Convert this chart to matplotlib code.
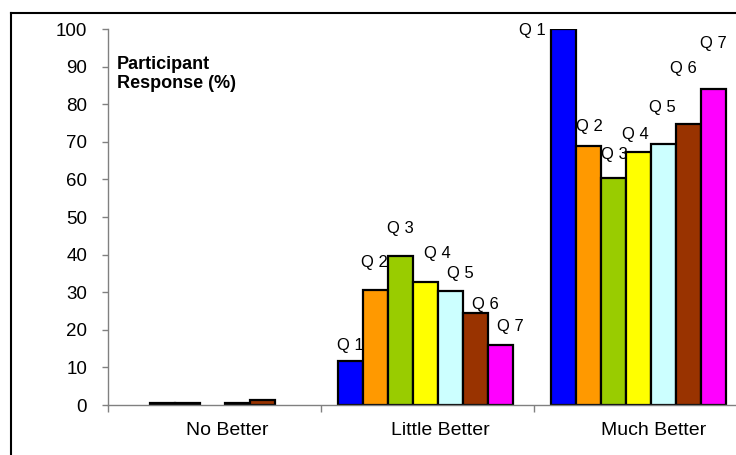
import matplotlib.pyplot as plt
from matplotlib.lines import Line2D
import matplotlib.transforms as mtransforms

plt.rcParams['font.family'] = ['Liberation Sans', 'DejaVu Sans']

categories = ['No Better', 'Little Better', 'Much Better']
questions = ['Q 1', 'Q 2', 'Q 3', 'Q 4', 'Q 5', 'Q 6', 'Q 7']

# response share per question, one value per category
q1 = [0.0, 11.8, 100.0]
q2 = [0.5, 30.6, 69.0]
q3 = [0.5, 39.7, 60.4]
q4 = [0.0, 32.6, 67.4]
q5 = [0.5, 30.3, 69.4]
q6 = [1.3, 24.4, 74.7]
q7 = [0.0, 16.0, 84.0]
series = [q1, q2, q3, q4, q5, q6, q7]

colors = ['#0000FF', '#FF9900', '#99CC00', '#FFFF00', '#CCFFFF', '#993300', '#FF00FF']

# label nudges in pixels (dx, dy) from the bar top, per category
label_offsets = {
    1: [(0, 15), (-1, 27), (0, 27), (12, 29), (10, 18), (10, 9), (10, 18)],
    2: [(-31, -2), (1, 19), (1, 23), (-3, 17), (-1, 37), (-5, 56), (0, 46)],
}

fig = plt.figure(figsize=(7.36, 4.55), dpi=100)
ax = fig.add_axes([108/736, 50/455, 639/736, 376/455])

w = 25/213
start = 17/213
for j, vals in enumerate(series):
    xs = [i + start + w*(j + 0.5) for i in range(len(categories))]
    bars = ax.bar(xs, vals, width=w, color=colors[j], edgecolor='black',
                  linewidth=1.6, zorder=2)
    for i, b in enumerate(bars):
        # empty bars leave no outline on the axis
        if vals[i] == 0:
            b.set_visible(False)
        if i not in label_offsets:
            continue
        dx, dy = label_offsets[i][j]
        ax.annotate(questions[j], (b.get_x() + w/2, b.get_height()),
                    xytext=(dx, dy), textcoords='offset pixels',
                    ha='center', va='center', fontsize=12, zorder=3,
                    annotation_clip=False)

ax.set_xlim(0, 3)
ax.set_ylim(0, 100)
ax.set_yticks(range(0, 101, 10))
ax.set_xticks([0, 1, 2, 3])
ax.set_xticklabels([])
ax.set_xticks([0.5, 1.5, 2.5], minor=True)
ax.set_xticklabels(categories, minor=True)
ax.tick_params(axis='x', which='minor', length=0, pad=12, labelsize=14)
ax.tick_params(axis='x', which='major', length=5, width=1, color='gray')
ax.tick_params(axis='y', length=4, width=1, color='gray', pad=11, labelsize=13.5)

shift = mtransforms.ScaledTranslation(13/100, 0, fig.dpi_scale_trans)
for lbl in ax.get_xticklabels(minor=True):
    lbl.set_transform(lbl.get_transform() + shift)

for side in ['top', 'right']:
    ax.spines[side].set_visible(False)
for side in ['left', 'bottom']:
    ax.spines[side].set_color('gray')
    ax.spines[side].set_linewidth(1)

fig.text(117/736, 1 - 74/455, 'Participant\nResponse (%)', fontsize=13,
         fontweight='bold', ha='left', va='center', linespacing=1.15)

# outer chart frame
fx = 11/736
fy = 1 - 13/455
fig.add_artist(Line2D([fx, fx], [0, fy], transform=fig.transFigure,
                      color='black', linewidth=1.5))
fig.add_artist(Line2D([fx, 1], [fy, fy], transform=fig.transFigure,
                      color='black', linewidth=1.5))

fig.savefig('out.png', dpi=100)
